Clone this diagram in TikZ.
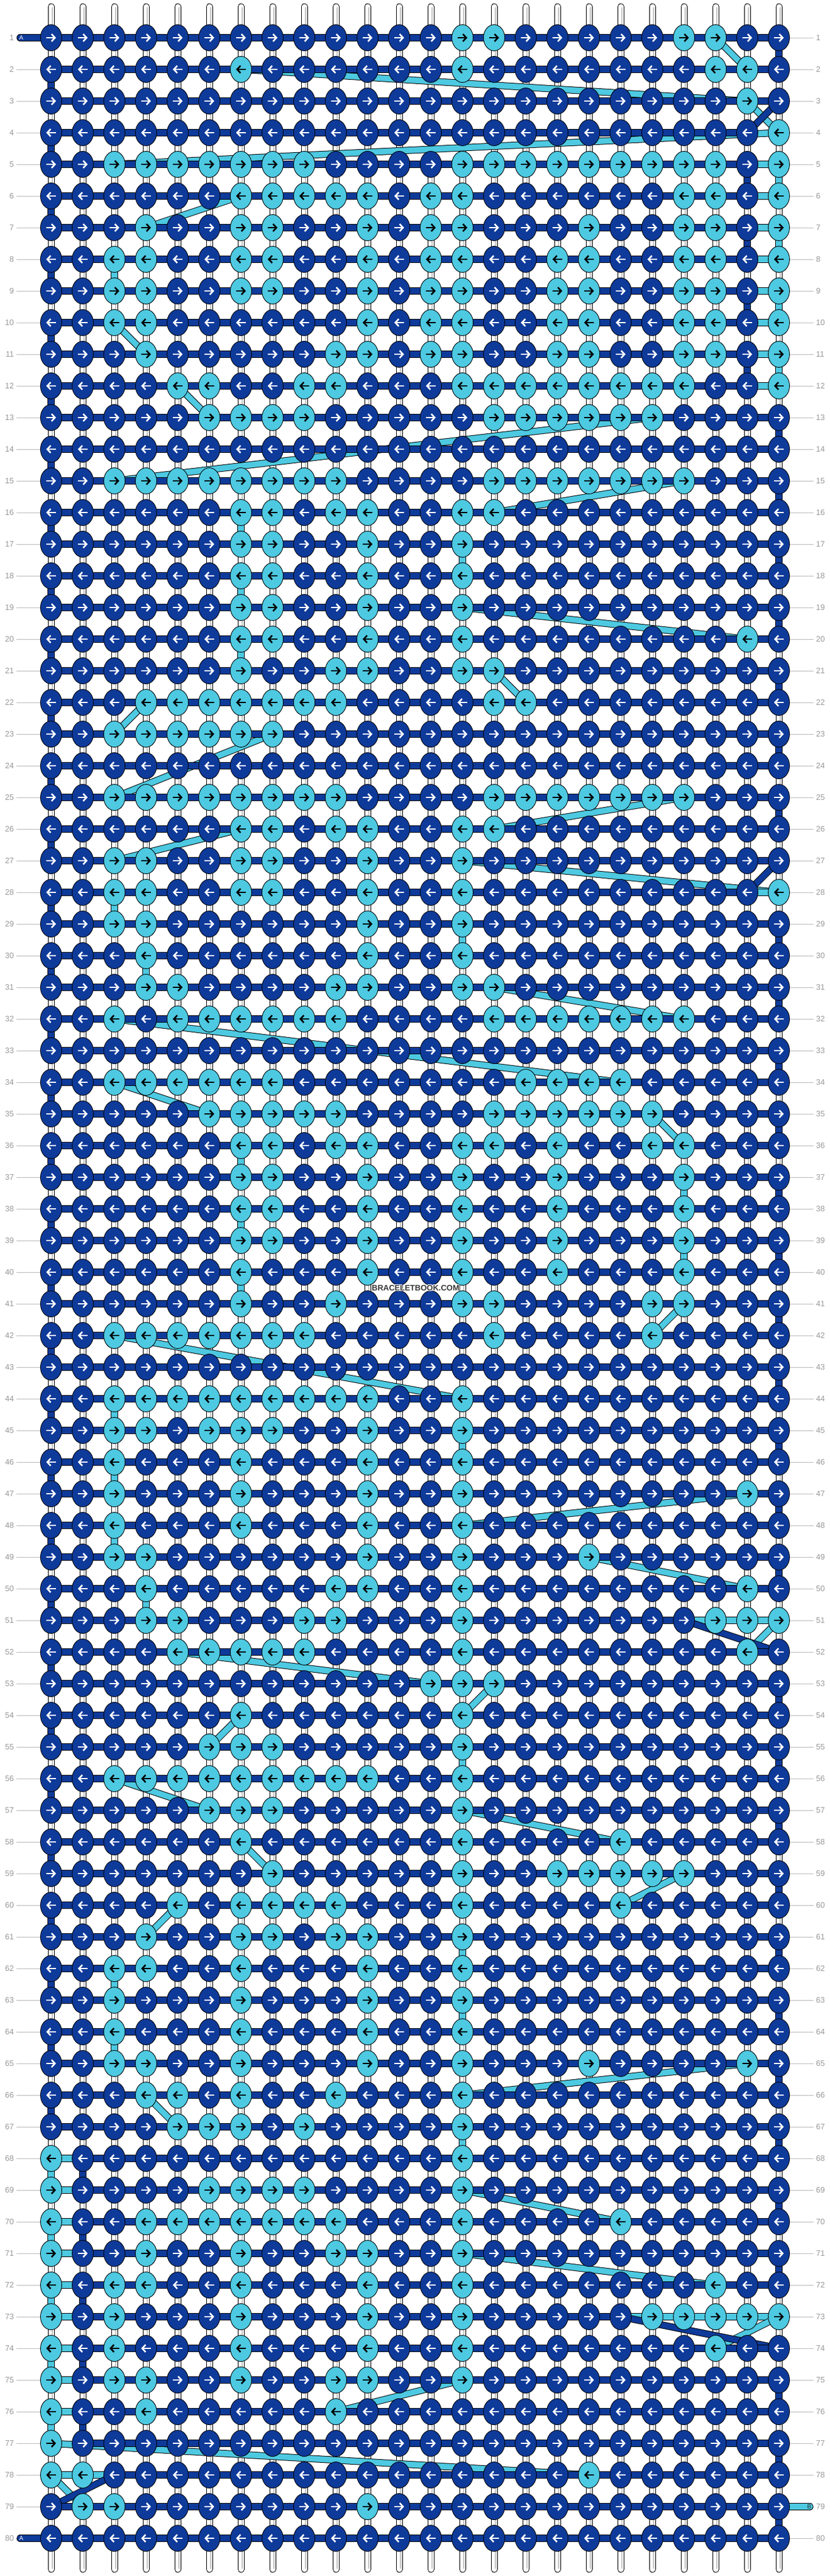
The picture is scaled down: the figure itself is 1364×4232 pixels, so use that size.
\documentclass[tikz,border=0pt]{standalone}
\usepackage{fontspec}
\setmainfont{Liberation Sans}
\usetikzlibrary{arrows.meta}
\definecolor{dk}{HTML}{0E3A9A}
\definecolor{cy}{HTML}{4DC9E1}
\definecolor{lbl}{HTML}{999999}
\definecolor{lln}{HTML}{BBBBBB}
\newcommand\setrow[2]{\foreach \c in {#2}{\expandafter\xdef\csname kc-#1-\c\endcsname{1}}}
\setrow{1}{14,15,21,22}
\setrow{2}{7,14,22,23}
\setrow{3}{23}
\setrow{4}{24}
\setrow{5}{3,4,5,6,7,8,9,14,15,16,17,18,19,20,21,22,24}
\setrow{6}{7,8,9,10,11,13,14,21,22,24}
\setrow{7}{4,7,8,11,13,14,18,21,22,24}
\setrow{8}{3,4,7,8,11,13,14,17,18,21,22,24}
\setrow{9}{3,4,7,8,11,13,14,17,18,21,22,24}
\setrow{10}{3,4,11,13,14,17,18,21,22,24}
\setrow{11}{4,10,11,13,14,17,18,21,22,24}
\setrow{12}{5,6,9,10,14,15,16,17,18,19,20,21,24}
\setrow{13}{6,7,8,9,15,16,17,18,19,20}
\setrow{15}{3,4,5,6,7,8,9,10,15,16,17,18,19,20,21}
\setrow{16}{7,8,10,11,14,15}
\setrow{17}{7,8,11,14}
\setrow{18}{7,8,11,14}
\setrow{19}{7,8,11,14}
\setrow{20}{7,8,11,14,23}
\setrow{21}{7,10,11,14,15}
\setrow{22}{4,5,6,7,8,9,10,15,16}
\setrow{23}{3,4,5,6,7,8}
\setrow{25}{3,4,5,6,7,8,9,10,15,16,17,18,19,20,21}
\setrow{26}{7,8,10,11,14,15}
\setrow{27}{3,4,7,8,11,14}
\setrow{28}{3,4,7,8,11,14,24}
\setrow{29}{3,4,11,14}
\setrow{30}{4,11,14}
\setrow{31}{4,5,10,11,14,15}
\setrow{32}{3,5,6,7,8,9,10,15,16,17,18,19,20,21}
\setrow{34}{3,4,5,6,7,8,16,17,18,19}
\setrow{35}{6,7,8,9,10,15,16,17,18,19,20}
\setrow{36}{7,8,10,11,14,15,17,20,21}
\setrow{37}{7,8,11,14,17,21}
\setrow{38}{7,8,11,14,17,21}
\setrow{39}{7,8,11,14,17,21}
\setrow{40}{7,11,14,17,21}
\setrow{41}{7,10,14,15,20,21}
\setrow{42}{3,4,5,6,7,8,9,15,20}
\setrow{44}{3,4,5,6,7,8,9,10,11,14}
\setrow{45}{3,4,6,7,8,11,14}
\setrow{46}{3,7,11,14}
\setrow{47}{3,7,11,14,23}
\setrow{48}{3,7,11,14}
\setrow{49}{3,4,11,14,18}
\setrow{50}{4,10,11,14,23}
\setrow{51}{4,5,9,10,14,22,23,24}
\setrow{52}{5,6,7,8,9,14,23}
\setrow{53}{13,14,15}
\setrow{54}{7,14}
\setrow{55}{6,7,8,14}
\setrow{56}{3,4,5,6,7,8,9,10,11,14}
\setrow{57}{6,7,8,14}
\setrow{58}{7,14,19}
\setrow{59}{8,14,17,18,19,20,21}
\setrow{60}{5,7,8,9,10,14,19}
\setrow{61}{4,7,8,10,11,14}
\setrow{62}{3,4,7,11,14}
\setrow{63}{3,7,11,14}
\setrow{64}{3,7,11,14}
\setrow{65}{3,4,7,11,14,18,23}
\setrow{66}{4,5,7,10,14}
\setrow{67}{5,6,7,9,14}
\setrow{68}{1,14}
\setrow{69}{1,6,7,8,9,14}
\setrow{70}{1,4,5,6,7,8,9,10,14,19}
\setrow{71}{1,4,7,10,11,14}
\setrow{72}{1,3,4,7,11,14,22}
\setrow{73}{1,3,7,11,14,20,21,22,23,24}
\setrow{74}{1,3,7,11,14,22}
\setrow{75}{1,3,4,7,10,11,14}
\setrow{76}{1,4,10}
\setrow{77}{1}
\setrow{78}{1,2,18}
\setrow{79}{2,3,11}
\newcommand\strpass[2]{%
  \gdef\lx{}\gdef\ly{}%
  \foreach \r in {1,...,80}{%
    \ifodd\r\relax\gdef\clist{1,...,24}\else\gdef\clist{24,23,...,1}\fi
    \foreach \c in \clist{%
      \ifcsname kc-\r-\c\endcsname\def\cc{1}\else\def\cc{0}\fi
      \ifnum\cc=#1\relax
        \edef\nx{\the\numexpr32+52*\c\relax}\edef\ny{\the\numexpr10+52*\r\relax}%
        \ifx\lx\empty\else
          \draw[line width=11.5,black] (\lx,\ly) -- (\nx,\ny);
          \draw[line width=9.5,#2] (\lx,\ly) -- (\nx,\ny);
        \fi
        \xdef\lx{\nx}\xdef\ly{\ny}%
      \fi
    }%
  }%
}
\newcommand\lblfont{\fontsize{13}{13}\selectfont}
\begin{document}
\begin{tikzpicture}[x=1pt,y=-1pt,
  arr/.style={line width=2.6,-{Straight Barb[length=5.5pt,width=12pt]}},
  numl/.style={text=lbl,inner sep=0,font=\lblfont}]
\useasboundingbox (0,0) rectangle (1364,4232);
\fill[white] (0,0) rectangle (1364,4232);
% row labels and guide lines
\foreach \r in {1,...,80}{%
  \edef\ny{\the\numexpr10+52*\r\relax}%
  \ifnum\r>1 \ifnum\r<80 \draw[lln,line width=1] (27,\ny) -- (70,\ny);\fi\fi
  \ifnum\r=79 \else \draw[lln,line width=1] (1290,\ny) -- (1337,\ny);\fi
  \node[numl,anchor=east] (ll\r) at (23,\ny) {\r};
  \node[numl,anchor=west] (rl\r) at (1341,\ny) {\r};
}
% white base strings
\foreach \c in {1,...,24}{%
  \edef\nx{\the\numexpr32+52*\c\relax}%
  \draw[line width=11,black,line cap=round] (\nx,11) -- (\nx,4221);
  \draw[line width=9,white,line cap=round] (\nx,11) -- (\nx,4221);
  \draw[line width=1.3,gray!45] (\nx+2,12) -- (\nx+2,4220);
}
% start/end stubs
\draw[line width=11.5,black,line cap=round] (33,62) -- (84,62);
\draw[line width=9.5,dk,line cap=round] (33,62) -- (84,62);
\draw[line width=11.5,black,line cap=round] (33,4170) -- (84,4170);
\draw[line width=9.5,dk,line cap=round] (33,4170) -- (84,4170);
\draw[line width=11.5,black,line cap=round] (1280,4118) -- (1331,4118);
\draw[line width=9.5,cy,line cap=round] (1280,4118) -- (1331,4118);
\node[text=white,inner sep=0,font=\fontsize{10}{10}\selectfont] (la) at (35,62) {A};
\node[text=white,inner sep=0,font=\fontsize{10}{10}\selectfont] (lz) at (35,4170) {A};
\node[text=black!85,inner sep=0,font=\fontsize{10}{10}\selectfont] (lb) at (1330,4118) {B};
% string paths
\strpass{1}{cy}
\strpass{0}{dk}
% knots
\foreach \r in {1,...,80}{\foreach \c in {1,...,24}{%
  \edef\nx{\the\numexpr32+52*\c\relax}\edef\ny{\the\numexpr10+52*\r\relax}%
  \ifcsname kc-\r-\c\endcsname\def\kf{cy}\def\ka{black}\else\def\kf{dk}\def\ka{white}\fi
  \filldraw[fill=\kf,draw=black,line width=0.9] (\nx,\ny) ellipse [x radius=17.5,y radius=21.5];
  \ifodd\r\relax
    \draw[arr,draw=\ka] (\nx-8,\ny) -- (\nx+8,\ny);
  \else
    \draw[arr,draw=\ka] (\nx+8,\ny) -- (\nx-8,\ny);
  \fi
}}
% watermark
\foreach \dx/\dy in {-1/-1,1/-1,-1/1,1/1,0/-1.3,0/1.3,-1.3/0,1.3/0}{%
  \node[text=white,inner sep=0,font=\bfseries\fontsize{13}{13}\selectfont] at (683+\dx,2116+\dy) {BRACELETBOOK.COM};
}
\node[text=black!78,inner sep=0,font=\bfseries\fontsize{13}{13}\selectfont] (wm) at (683,2116) {BRACELETBOOK.COM};
\end{tikzpicture}
\end{document}
